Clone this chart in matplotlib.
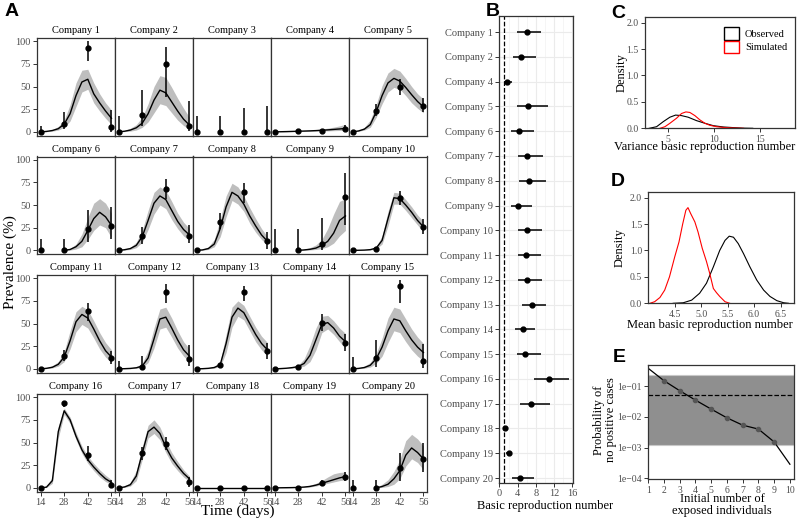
import matplotlib.pyplot as plt
from matplotlib.patches import Patch
import numpy as np

plt.rcParams['font.family'] = ['Liberation Serif', 'DejaVu Serif']

W, H = 800, 522
N = np.nan
GRAY_TXT = '#4D4D4D'
EDGE = '#333333'

# ---- panel A: prevalence per company ----
obs_days = [14, 28, 42, 56]
obs_val = [
    [0, 9, 93, 5], [0, 19, 75, 7], [0, 0, 0, 0], [0, 1, 1, 3.7], [0, 23, 50, 28],
    [0, 0, 23.5, 27], [0, 16, 68, 16], [0, 31, 64, 10], [0, 0, 7.4, 58.5], [0, 2, 58, 26],
    [0, 14, 63.4, 12], [0, 2, 85, 11], [0, 4.4, 85, 19.4], [0, 2.5, 50.5, 29], [0, 12, 91.6, 9],
    [0, 93.4, 35.7, 3.3], [0, 38, 48.5, 6], [0, 0, 0, 0], [0, 0.4, 5, 12.5], [0, 0, 21.7, 32],
]
obs_lo = [
    [0, 3, 78, 0], [0, 6, 38, 1], [0, 0, 0, 0], [0, 0.5, 0.5, 1.5], [0, 18, 41, 22],
    [0, 0, 9, 12], [0, 7, 57, 8], [0, 24, 52, 2], [0, 0, 0, 27.5], [0, 0.5, 50, 18.4],
    [0, 9, 53, 5.5], [0, 0, 73, 3], [0, 2, 75, 11], [0, 1.5, 42, 20], [0, 2, 72.5, 1],
    [0, 89.7, 30, 0.5], [0, 31, 42, 1], [0, 0, 0, 0], [0, 0, 2.5, 8], [0, 0, 8, 17],
]
obs_hi = [
    [7, 22, 100, 24], [18, 46, 94, 34], [18, 18, 26, 28], [1, 2, 2, 8], [1, 31, 58, 37],
    [12, 13, 45, 48], [2, 26, 79, 28], [3, 41, 74, 20], [24, 24, 36, 85], [1, 4, 66, 35],
    [1, 21, 72.5, 20], [9, 14, 94, 26], [1, 7, 91.6, 29], [0.5, 4, 60, 38], [13, 32, 98, 27.5],
    [0.5, 96, 46.7, 9], [0.5, 45, 56.6, 12], [0.3, 0.3, 0.3, 0.3], [0.3, 1, 9, 18], [9, 9, 38, 50],
]

fit_days = [14, 17.5, 21, 24.5, 28, 31.5, 35, 38.5, 42, 45.5, 49, 52.5, 56]
fit_mid = [
    [0, 0.5, 1.5, 3.5, 8.5, 20, 40, 55, 58, 42, 32, 23, 15],
    [0, 0.7, 2, 4.5, 9.5, 20, 35, 46, 43, 33, 23, 14, 7.5],
    [N, N, N, N, N, N, N, N, N, N, N, N, N],
    [0, 0.15, 0.3, 0.5, 0.7, 0.9, 1.1, 1.4, 1.8, 2.2, 2.7, 3.2, 3.8],
    [0, 1, 3, 8, 22, 40, 54, 59, 56, 49, 41, 33.5, 27.5],
    [N, N, N, N, 0, 1, 4, 10, 22, 35, 42, 37, 27.5],
    [0, 0.7, 2, 5.5, 15, 33, 52, 60, 56, 44, 32, 23, 17],
    [0, 0.5, 2, 7, 24, 48, 64, 60, 51, 38, 27, 17, 10],
    [N, N, N, N, 0, 0.5, 1.2, 2.5, 5.5, 10, 19, 33, 38],
    [0, 0.1, 0.3, 0.8, 2.5, 11, 35, 58, 57, 50, 42, 33, 26],
    [0, 0.6, 1.8, 5, 13, 31, 52, 60, 56, 44, 31, 20, 13],
    [0, 0.2, 0.5, 1.2, 3, 12, 33, 55, 57, 45, 32, 21, 14],
    [0, 0.2, 0.6, 1.5, 4.5, 28, 57, 67, 62, 50, 38, 28, 21],
    [0, 0.3, 0.7, 1.4, 2.5, 6, 15, 32, 49, 51, 45, 36, 30],
    [0, 0.5, 1.5, 4, 11, 24, 42, 55, 53, 42, 32, 24, 18],
    [0, 0.8, 8, 62, 85, 75, 57, 42, 31, 23, 16, 10, 6],
    [0, 1, 3.5, 13, 38, 62, 67, 60, 45, 33, 24, 16, 10],
    [0, 0, 0, 0, 0, 0, 0, 0, 0, 0, 0, 0, 0],
    [0, 0.1, 0.2, 0.3, 0.5, 0.9, 1.6, 3, 5, 7, 9, 11, 12.5],
    [N, N, N, N, 0, 1.5, 4, 10, 19, 36, 44, 39, 32],
]
fit_lo = [
    [0, 0.2, 0.8, 2, 5, 12, 28, 44, 47, 32, 23, 15, 8],
    [0, 0.3, 0.8, 2, 5, 11, 21, 31, 29, 21, 13, 7, 3],
    [N, N, N, N, N, N, N, N, N, N, N, N, N],
    [0, 0.05, 0.15, 0.3, 0.45, 0.6, 0.7, 0.8, 0.95, 1.1, 1.3, 1.5, 1.8],
    [0, 0.6, 2, 5, 16, 31, 44, 49, 47, 40, 32, 26, 21],
    [N, N, N, N, 0, 0.3, 1.5, 4, 12, 22, 28, 25, 14],
    [0, 0.3, 1, 3, 9, 23, 40, 50, 46, 34, 24, 16, 11],
    [0, 0.2, 1, 4, 15, 37, 55, 51, 43, 30, 20, 12, 6],
    [N, N, N, N, 0, 0.1, 0.4, 1, 2, 4, 8, 16, 22],
    [0, 0.05, 0.15, 0.4, 1.5, 7, 27, 51, 51, 44, 36, 28, 20],
    [0, 0.3, 1, 3, 8, 22, 41, 49, 45, 34, 22, 13, 7],
    [0, 0.1, 0.2, 0.6, 1.5, 7, 23, 44, 46, 35, 23, 14, 8],
    [0, 0.1, 0.3, 0.8, 2.5, 18, 46, 58, 54, 42, 30, 21, 14],
    [0, 0.15, 0.4, 0.8, 1.5, 3, 8, 21, 40, 44, 38, 30, 22],
    [0, 0.2, 0.7, 2, 6, 14, 29, 42, 40, 30, 21, 14, 9],
    [0, 0.4, 5, 55, 81, 71, 53, 38, 27, 19, 12, 7, 3.5],
    [0, 0.5, 2, 8, 31, 55, 60, 53, 39, 27, 19, 12, 7],
    [0, 0, 0, 0, 0, 0, 0, 0, 0, 0, 0, 0, 0],
    [0, 0.05, 0.1, 0.2, 0.3, 0.5, 1, 2, 3.5, 5, 6.5, 8, 9],
    [N, N, N, N, 0, 0.5, 1.5, 4, 10, 24, 32, 28, 20],
]
fit_hi = [
    [0.3, 1, 2.5, 6, 13, 30, 54, 68, 69, 54, 42, 32, 24],
    [0.5, 1.5, 4, 8, 16, 31, 50, 62, 60, 49, 37, 26, 16],
    [N, N, N, N, N, N, N, N, N, N, N, N, N],
    [0.1, 0.3, 0.6, 0.8, 1.1, 1.5, 1.9, 2.5, 3.2, 4.1, 5.2, 6.6, 8.3],
    [0.1, 1.6, 5, 13, 30, 51, 65, 70, 67, 59, 50, 42, 36],
    [N, N, N, N, 0.5, 2, 7, 18, 36, 52, 57, 52, 41],
    [0.2, 1.3, 3.5, 9, 22, 44, 64, 70, 66, 54, 41, 31, 24],
    [0.3, 1.2, 4, 12, 34, 60, 74, 70, 60, 47, 35, 24, 15],
    [N, N, N, N, 0.3, 1.2, 3, 6, 12, 24, 40, 54, 57],
    [0.1, 0.3, 0.6, 1.5, 4, 16, 43, 64, 63, 56, 48, 39, 32],
    [0.2, 1.2, 3.5, 8, 19, 42, 63, 69, 65, 53, 40, 29, 21],
    [0.1, 0.4, 1, 2.5, 6, 20, 45, 66, 68, 56, 42, 30, 22],
    [0.1, 0.4, 1.2, 3, 8, 38, 68, 75, 70, 58, 46, 36, 29],
    [0.1, 0.5, 1.2, 2.2, 4, 11, 26, 45, 58, 59, 53, 45, 39],
    [0.3, 1, 3, 7, 17, 34, 56, 68, 66, 55, 44, 35, 28],
    [0.2, 1.5, 12, 68, 88, 78, 61, 46, 35, 27, 20, 14, 9],
    [0.3, 1.8, 6, 19, 45, 69, 75, 67, 52, 39, 29, 20, 13],
    [0.3, 0.3, 0.3, 0.3, 0.3, 0.3, 0.3, 0.3, 0.3, 0.3, 0.3, 0.3, 0.3],
    [0.1, 0.2, 0.4, 0.6, 0.9, 1.6, 3, 5, 8, 12, 15.5, 17, 17.5],
    [N, N, N, N, 0.5, 4, 9, 18, 31, 52, 59, 54, 46],
]

# ---- panel B: basic reproduction number per company ----
b_companies = [1, 2, 4, 5, 6, 7, 8, 9, 10, 11, 12, 13, 14, 15, 16, 17, 18, 19, 20]
r0_mean = [5.98, 4.76, 1.73, 6.27, 4.32, 6.13, 6.56, 4.18, 5.98, 5.9,
           5.98, 7.06, 5.19, 5.7, 10.88, 6.85, 1.15, 2.09, 4.47]
r0_lo = [3.96, 2.88, 1.08, 3.96, 2.52, 4.1, 4.32, 2.52, 4.1, 4.1,
         4.1, 4.9, 3.53, 3.96, 7.64, 4.6, 0.72, 1.5, 2.67]
r0_hi = [9.15, 8.14, 2.8, 10.67, 7.71, 9.5, 10.2, 7.13, 9.37, 9.2,
         9.37, 10.2, 7.93, 9.08, 15.42, 11.1, 1.73, 2.8, 7.71]

# ---- panel C: variance density ----
var_obs_x = [2.93, 3.73, 4.46, 5.18, 5.8, 6.45, 7.17, 8.08, 8.99, 9.9, 11, 12.1, 13.2, 14.2]
var_obs_y = [0, 0.03, 0.126, 0.21, 0.25, 0.24, 0.21, 0.145, 0.095, 0.05, 0.025, 0.013, 0.003, 0]
var_sim_x = [4.1, 4.64, 5.18, 5.9, 6.45, 6.92, 7.35, 7.9, 8.44, 8.99, 9.53, 10.25, 11.16, 12.1, 13.2]
var_sim_y = [0, 0.03, 0.095, 0.19, 0.28, 0.31, 0.30, 0.24, 0.16, 0.095, 0.057, 0.03, 0.013, 0.006, 0]

# ---- panel D: mean density ----
mean_obs_x = [4.47, 4.66, 4.82, 4.97, 5.1, 5.23, 5.35, 5.45, 5.53, 5.61, 5.7, 5.8, 5.92,
              6.05, 6.18, 6.3, 6.43, 6.56, 6.65]
mean_obs_y = [0, 0.01, 0.06, 0.19, 0.38, 0.69, 1.0, 1.19, 1.27, 1.25, 1.13, 0.94, 0.69,
              0.44, 0.25, 0.13, 0.05, 0.01, 0]
mean_sim_x = [4.03, 4.12, 4.22, 4.31, 4.4, 4.5, 4.58, 4.65, 4.71, 4.75, 4.8, 4.88, 4.94,
              5.02, 5.1, 5.16, 5.23, 5.29, 5.35, 5.45, 5.54]
mean_sim_y = [0, 0.03, 0.11, 0.25, 0.5, 0.88, 1.16, 1.5, 1.76, 1.81, 1.7, 1.54, 1.35,
              1.04, 0.79, 0.57, 0.28, 0.2, 0.13, 0.03, 0]

# ---- panel E: probability of no positive cases ----
n_exposed = [1, 2, 3, 4, 5, 6, 7, 8, 9, 10]
p_none = [0.376, 0.149, 0.0705, 0.0349, 0.0178, 0.00927, 0.00536, 0.0040, 0.00153, 0.000288]
band_lo, band_hi = 0.00126, 0.228
threshold = 0.05


def box(l, t, r, b):
    return [l / W, 1 - b / H, (r - l) / W, (b - t) / H]


def label(x, y, s, size=9, rot=0, **kw):
    fig.text(x / W, 1 - y / H, s, fontsize=size, rotation=rot,
             ha='center', va='center', **kw)


def style(ax, size=7):
    for s in ax.spines.values():
        s.set_color(EDGE)
        s.set_linewidth(0.9)
    ax.tick_params(labelsize=size, labelcolor=GRAY_TXT, color=EDGE, length=3, width=0.7, pad=1.5)


fig = plt.figure(figsize=(8, 5.22), dpi=100)

row_tops = [38, 156.5, 275, 394]
for k in range(20):
    row, col = k // 5, k % 5
    l = 37 + col * 78
    t = row_tops[row]
    ax = fig.add_axes(box(l, t, l + 78, t + 97.5))
    ax.fill_between(fit_days, fit_lo[k], fit_hi[k], color='#BEBEBE', lw=0)
    ax.plot(fit_days, fit_mid[k], color='black', lw=1)
    ax.vlines(obs_days, obs_lo[k], obs_hi[k], color='black', lw=1.1)
    ax.plot(obs_days, obs_val[k], 'o', color='black', ms=3.5)
    ax.set_xlim(11.9, 58.1)
    ax.set_ylim(-4, 103.5)
    ax.set_xticks([14, 28, 42, 56])
    ax.set_yticks([0, 25, 50, 75, 100])
    style(ax, 7.5)
    ax.tick_params(left=(col == 0), labelleft=(col == 0),
                   bottom=(row == 3), labelbottom=(row == 3))
    ax.set_title(f'Company {k + 1}', fontsize=7.5, pad=3.5)

label(10, 262, 'Prevalence (%)', size=11, rot=90)
label(238, 511, 'Time (days)', size=11)

# B
axb = fig.add_axes(box(499, 16, 573, 483))
ypos = np.arange(1, len(b_companies) + 1)
axb.set_xticks([2, 6, 10, 14], minor=True)
axb.grid(True, which='major', color='#EBEBEB', lw=0.8)
axb.grid(True, which='minor', axis='x', color='#F2F2F2', lw=0.5)
axb.set_axisbelow(True)
axb.axvline(1, color='black', ls='--', lw=0.9)
axb.hlines(ypos, r0_lo, r0_hi, color='black', lw=1.1)
axb.plot(r0_mean, ypos, 'o', color='black', ms=3.5)
axb.set_xlim(-0.1, 16.2)
axb.set_ylim(19.2, 0.35)
axb.set_xticks([0, 4, 8, 12, 16])
axb.set_yticks(ypos)
axb.set_yticklabels([f'Company {c}' for c in b_companies])
style(axb, 7.5)
axb.tick_params(which='minor', length=0)
label(545, 506, 'Basic reproduction number')

# C
axc = fig.add_axes(box(645, 17.3, 795, 128.3))
axc.plot(var_obs_x, var_obs_y, color='black', lw=0.8)
axc.plot(var_sim_x, var_sim_y, color='red', lw=0.8)
axc.set_xlim(2.47, 18.8)
axc.set_ylim(0, 2.1)
axc.set_xticks([5, 10, 15])
axc.set_yticks([0, 0.5, 1.0, 1.5, 2.0])
axc.set_yticklabels(['0.0', '0.5', '1.0', '1.5', '2.0'])
style(axc)
label(705, 147, 'Variance basic reproduction number')
label(622, 73, 'Density', rot=90)
handles = [Patch(facecolor='white', edgecolor='black', label='Observed'),
           Patch(facecolor='white', edgecolor='red', label='Simulated')]
axc.legend(handles=handles, loc='upper right', frameon=False, fontsize=7.5,
           handlelength=1.4, handleheight=1.5, handletextpad=0.6, labelspacing=0.1,
           bbox_to_anchor=(0.99, 0.97), borderaxespad=0.2)

# D
axd = fig.add_axes(box(648.3, 192.3, 794.3, 303.3))
axd.plot(mean_obs_x, mean_obs_y, color='black', lw=0.8)
axd.plot(mean_sim_x, mean_sim_y, color='red', lw=0.8)
axd.set_xlim(4.0, 6.76)
axd.set_ylim(0, 2.1)
axd.set_xticks([4.5, 5.0, 5.5, 6.0, 6.5])
axd.set_xticklabels(['4.5', '5.0', '5.5', '6.0', '6.5'])
axd.set_yticks([0, 0.5, 1.0, 1.5, 2.0])
axd.set_yticklabels(['0.0', '0.5', '1.0', '1.5', '2.0'])
style(axd)
label(710, 325, 'Mean basic reproduction number')
label(620, 248, 'Density', rot=90)

# E
axe = fig.add_axes(box(648.3, 365, 794.3, 479.3))
axe.set_yscale('log')
axe.axhspan(band_lo, band_hi, facecolor='#8F8F8F', edgecolor='#C8C8C8', lw=0.8)
axe.axhline(threshold, color='black', ls='--', lw=0.9)
axe.plot(n_exposed, p_none, color='black', lw=0.9)
axe.plot(n_exposed[1:-1], p_none[1:-1], 'o', color='#555555', ms=3)
axe.set_xlim(1, 10.28)
axe.set_ylim(10 ** -4.03, 10 ** -0.315)
axe.set_xticks(n_exposed)
axe.set_yticks([1e-4, 1e-3, 1e-2, 1e-1])
axe.set_yticklabels(['1e\u221204', '1e\u221203', '1e\u221202', '1e\u221201'])
axe.minorticks_off()
style(axe)
label(722, 505, 'Initial number of\nexposed individuals', linespacing=1.0)
label(605, 420, 'Probability of\nno positive cases', rot=90, linespacing=1.0)

for letter, x, y in [('A', 11.5, 11), ('B', 493, 11), ('C', 618, 13), ('D', 618, 181), ('E', 619, 357)]:
    label(x, y, letter, size=14, family='Liberation Sans', weight='bold')

fig.savefig('out.png', dpi=100)
